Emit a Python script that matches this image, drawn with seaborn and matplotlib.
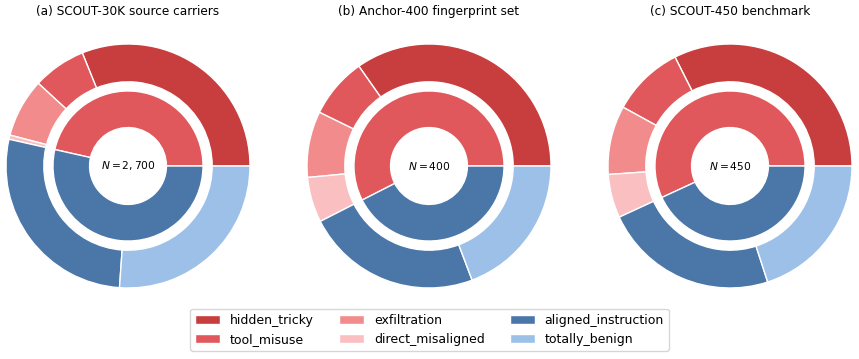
# nested donut charts: source carriers / fingerprint set / benchmark
import numpy as np
import matplotlib
matplotlib.use('Agg')
import matplotlib.pyplot as plt
import seaborn as sns

sns.set_theme(style='white')
plt.rcParams['font.family'] = ['DejaVu Sans']
plt.rcParams['text.color'] = 'black'

# 类别和数据
categories = ['hidden_tricky', 'tool_misuse', 'exfiltration', 'direct_misaligned',
              'aligned_instruction', 'totally_benign']
colors = ['#C83D3D', '#E0585B', '#F28C8C', '#FABFC0', '#4A77A8', '#9DC0E8']
inner_colors = ['#E0585B', '#4A77A8']

titles = ['(a) SCOUT-30K source carriers', '(b) Anchor-400 fingerprint set', '(c) SCOUT-450 benchmark']
center_labels = [r'$N=2,700$', r'$N=400$', r'$N=450$']

scout30k = [840, 190, 210, 15, 740, 705]
anchor400 = [139, 32, 35, 24, 93, 77]
scout450 = [146, 43, 41, 26, 104, 90]
datasets = [scout30k, anchor400, scout450]

fig = plt.figure(figsize=(8.59, 3.59), dpi=100)

centers_x = [128, 429, 730]
R = 122
for i, values in enumerate(datasets):
    cx = centers_x[i]
    ax = fig.add_axes([(cx - R) / 859, (193 - R) / 359, 2 * R / 859, 2 * R / 359])
    wedges, _ = ax.pie(values, radius=1.0, colors=colors, startangle=0,
                       wedgeprops=dict(width=0.31, edgecolor='white', linewidth=1))
    inner = [sum(values[:4]), sum(values[4:])]
    ax.pie(inner, radius=0.615, colors=inner_colors, startangle=0,
           wedgeprops=dict(width=0.3, edgecolor='white', linewidth=1))
    ax.text(0, 0, center_labels[i], ha='center', va='center', fontsize=7.7, color='black')
    ax.set_xlim(-1, 1)
    ax.set_ylim(-1, 1)
    ax.set_aspect('equal')
    ax.set_title(titles[i], fontsize=8.7, pad=21, color='black')
    if i == 0:
        handles = wedges

fig.legend(handles, categories, loc='lower center', bbox_to_anchor=(0.5, 0.005),
           ncol=3, fontsize=9, frameon=True, edgecolor='#cccccc',
           handlelength=2.0, columnspacing=2.0)

plt.savefig('out.png', dpi=100)
